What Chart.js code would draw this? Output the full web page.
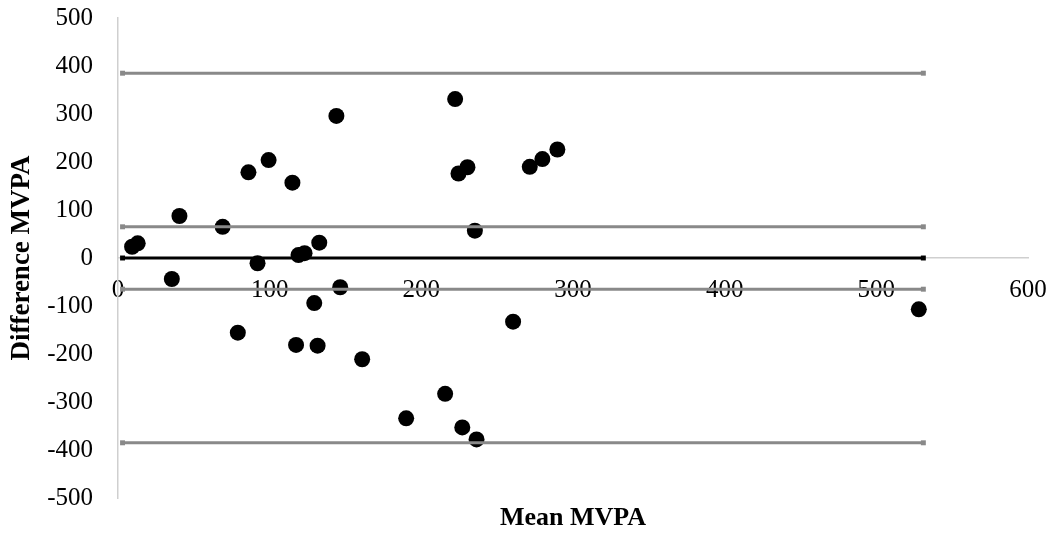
<!DOCTYPE html>
<html>
<head>
<meta charset="utf-8">
<script src="https://cdn.jsdelivr.net/npm/chart.js@4/dist/chart.umd.min.js"></script>
<style>
  html, body { margin: 0; padding: 0; background: #ffffff; }
  #wrap { width: 1057px; height: 533px; }
</style>
</head>
<body>
<div id="wrap"><canvas id="myChart" width="1057" height="533"></canvas></div>
<script>
// mean of the two methods (x) and their difference (y)
const meanMVPA = [9.3, 13, 40.5, 35.5, 69, 79, 86, 92, 99.3, 115, 117.4, 119, 123, 129.4, 131.6, 132.7,
    144, 146.5, 161, 190, 215.7, 222.3, 224.5, 227, 230.4, 235.3, 236.4, 260.5, 271.5, 279.8, 289.7, 528];
const diffMVPA = [23.5, 30.6, 87.5, -43.7, 65, -155.6, 178.5, -11, 204, 157, -181, 6, 10, -94, -182.7, 32,
    296, -61, -211, -334, -283, 331, 176, -353, 189, 57, -378, -132.7, 190, 206, 226, -107];

// horizontal reference lines (limits / bias)
const refLevels = [385, 65, 0, -65, -385];
const refStart = 3;
const refEnd = 531;

const xTitle = 'Mean MVPA';
const yTitle = 'Difference MVPA';

const serif = "'Liberation Serif', 'Times New Roman', serif";

let punkty = [];
meanMVPA.forEach((m, i) => {
    punkty.push({x: m, y: diffMVPA[i]});
});

let linie = refLevels.map(level => {
    let kolor = level === 0 ? '#000000' : '#898989';
    return {
        type: 'line',
        data: [{x: refStart, y: level}, {x: refEnd, y: level}],
        borderColor: kolor,
        backgroundColor: kolor,
        borderWidth: 3,
        pointStyle: 'rect',
        pointRadius: 3.5,
        pointBorderWidth: 0,
        order: 0
    };
});

// x title sits at the bottom of the page, not at the axis which crosses at y = 0
const xTitlePlugin = {
    id: 'xTitlePlugin',
    afterDraw(chart) {
        const ctx = chart.ctx;
        const area = chart.chartArea;
        ctx.save();
        ctx.font = "bold 26px " + serif;
        ctx.fillStyle = '#000000';
        ctx.textAlign = 'center';
        ctx.textBaseline = 'alphabetic';
        ctx.fillText(xTitle, (area.left + area.right) / 2, 525);
        ctx.restore();
    }
};

let ctx = document.getElementById('myChart').getContext('2d');
let wykres = new Chart(ctx, {
    type: 'scatter',
    data: {
        datasets: [
            ...linie,
            {
                label: 'MVPA',
                data: punkty,
                backgroundColor: '#000000',
                borderColor: '#000000',
                pointRadius: 8,
                pointBorderWidth: 0,
                order: 1
            }
        ]
    },
    options: {
        responsive: false,
        animation: false,
        layout: { padding: { top: 18, bottom: 35, right: 29, left: 0 } },
        plugins: {
            legend: { display: false },
            tooltip: { enabled: false }
        },
        scales: {
            x: {
                type: 'linear',
                position: { y: 0 },
                min: 0,
                max: 600,
                // gap between axis and labels comes from the (hidden) tick length
                grid: { display: false, drawTicks: true, tickLength: 17 },
                border: { display: true, color: '#cfcfcf', width: 1.5 },
                ticks: {
                    stepSize: 100,
                    padding: 0,
                    maxRotation: 0,
                    autoSkip: false,
                    color: '#000000',
                    font: { family: serif, size: 25 }
                }
            },
            y: {
                type: 'linear',
                position: 'left',
                min: -500,
                max: 500,
                grid: { display: false, drawTicks: true, tickLength: 25 },
                border: { display: true, color: '#cfcfcf', width: 1.5 },
                ticks: {
                    stepSize: 100,
                    padding: 0,
                    color: '#000000',
                    font: { family: serif, size: 25 }
                },
                title: {
                    display: true,
                    text: yTitle,
                    color: '#000000',
                    font: { family: serif, size: 27, weight: 'bold' },
                    padding: { top: 6, bottom: 0 }
                },
                afterFit(scale) {
                    scale.width = 118;
                }
            }
        }
    },
    plugins: [xTitlePlugin]
});
</script>
</body>
</html>
